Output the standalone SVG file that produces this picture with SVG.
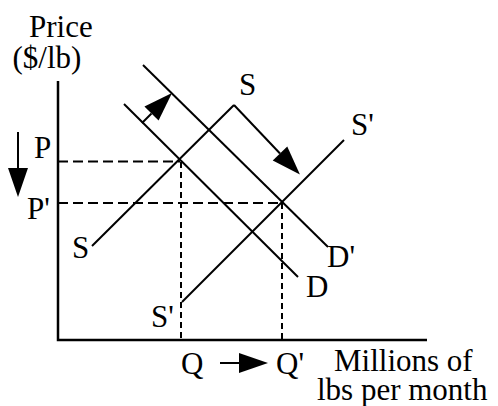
<svg xmlns="http://www.w3.org/2000/svg" width="498" height="406" viewBox="0 0 498 406">
<style>
text{font-family:"Liberation Serif","Times New Roman",serif;font-size:31px;fill:#000}
.ln{stroke:#000;stroke-width:2;fill:none}
.ax{stroke:#000;stroke-width:2.5;fill:none}
.dh{stroke:#000;stroke-width:2;fill:none;stroke-dasharray:10 5}
.dv{stroke:#000;stroke-width:2;fill:none;stroke-dasharray:6 4}
.ar{stroke:#000;stroke-width:2;fill:none;marker-end:url(#ah)}
</style>
<defs>
<marker id="ah" markerUnits="userSpaceOnUse" markerWidth="30" markerHeight="22" refX="0" refY="10" orient="auto" overflow="visible">
<path d="M0,0 L29,10 L0,20 Z" fill="#000"/>
</marker>
</defs>
<rect width="498" height="406" fill="#fff"/>
<g id="axes">
<path class="ax" d="M58,81 V340 H427"/>
<text x="29" y="37">Price</text>
<text x="12.5" y="68">($/lb)</text>
<text x="334" y="371">Millions of</text>
<text x="317" y="400">lbs per month</text>
</g>
<g id="guides">
<line class="dh" x1="58" y1="161.5" x2="180" y2="161.5"/>
<line class="dh" x1="58" y1="203" x2="282" y2="203"/>
<line class="dv" x1="181" y1="162" x2="181" y2="340"/>
<line class="dv" x1="282" y1="203" x2="282" y2="340"/>
<text x="34" y="158">P</text>
<text x="27" y="219">P'</text>
<text x="181" y="374">Q</text>
<text x="276" y="374">Q'</text>
</g>
<g id="supply-S">
<line class="ln" x1="92" y1="246" x2="234" y2="105"/>
<text x="72" y="258">S</text>
<text x="239" y="95">S</text>
</g>
<g id="supply-S-prime">
<line class="ln" x1="182" y1="302" x2="344" y2="140"/>
<text x="151" y="327">S'</text>
<text x="351" y="135">S'</text>
</g>
<g id="demand-D">
<line class="ln" x1="124" y1="104" x2="298" y2="277"/>
<text x="306" y="297">D</text>
</g>
<g id="demand-D-prime">
<line class="ln" x1="143" y1="65" x2="328" y2="247"/>
<text x="327" y="267">D'</text>
</g>
<g id="connectors">
<line class="ar" x1="18" y1="132" x2="18" y2="168"/>
<line class="ar" x1="220" y1="363" x2="239" y2="363"/>
<line class="ar" x1="142" y1="123" x2="151.5" y2="113.5"/>
<line class="ar" x1="234" y1="105" x2="280" y2="153.5"/>
</g>
</svg>
